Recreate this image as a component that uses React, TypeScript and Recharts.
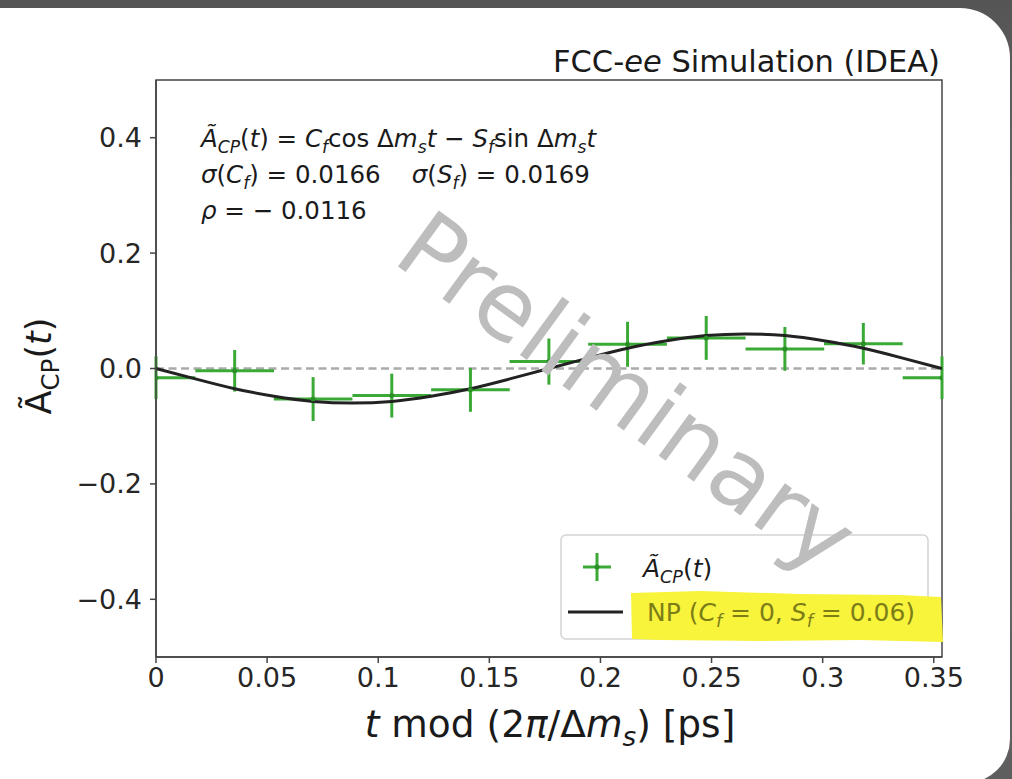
import React from "react";
import {
  ComposedChart,
  Line,
  Scatter,
  ErrorBar,
  XAxis,
  YAxis,
  ReferenceLine,
  ReferenceArea
} from "recharts";

// folded proper time, bin centres [ps]
const binTimes = [0, 0.0354, 0.0707, 0.1061, 0.1415, 0.1768, 0.2122, 0.2476, 0.283, 0.3183, 0.3537];
const asymValues = [-0.016, -0.004, -0.053, -0.047, -0.037, 0.012, 0.042, 0.053, 0.034, 0.043, -0.016];
const asymErrors = [0.037, 0.036, 0.038, 0.038, 0.038, 0.04, 0.039, 0.038, 0.038, 0.036, 0.037];
// horizontal bars as [left, right]; the edge bins are cut at the frame
const timeErrors = [
  [0, 0.0177], [0.0177, 0.0177], [0.0177, 0.0177], [0.0177, 0.0177], [0.0177, 0.0177], [0.0177, 0.0177],
  [0.0177, 0.0177], [0.0177, 0.0177], [0.0177, 0.0177], [0.0177, 0.0177], [0.0177, 0]
];

// NP hypothesis curve (C_f = 0, S_f = 0.06)
const npTimes = [
  0, 0.0177, 0.0354, 0.0531, 0.0707, 0.0884, 0.1061, 0.1238, 0.1415, 0.1592, 0.1768,
  0.1945, 0.2122, 0.2299, 0.2476, 0.2653, 0.283, 0.3006, 0.3183, 0.336, 0.3537
];
const npValues = [
  0, -0.018, -0.035, -0.048, -0.057, -0.06, -0.057, -0.048, -0.035, -0.018, 0,
  0.018, 0.035, 0.048, 0.057, 0.06, 0.057, 0.048, 0.035, 0.018, 0
];

const xTicks = [0, 0.05, 0.1, 0.15, 0.2, 0.25, 0.3, 0.35];
const yTicks = [-0.4, -0.2, 0, 0.2, 0.4];
const xMax = 0.3537;

const FONT = "DejaVu Sans";
const GREEN = "#3aa935";
const INK = "#222";

const points = binTimes.map((t, i) => ({
  t,
  a: asymValues[i],
  tErr: timeErrors[i],
  aErr: asymErrors[i]
}));
const npCurve = npTimes.map((t, i) => ({ t, a: npValues[i] }));

const tickStyle = { fill: "#262626", fontSize: 27, fontFamily: FONT };
const axisStroke = { stroke: "#444", strokeWidth: 1.5 };

type Seg = [string, "r" | "i" | "s" | "sr"];

// small mathtext-ish helper: italic symbols and subscripts
function MathText({
  x = 0,
  y = 0,
  size,
  segs,
  fill = "#1a1a1a",
  anchor = "start",
  transform
}: {
  x?: number;
  y?: number;
  size: number;
  segs: Seg[];
  fill?: string;
  anchor?: "start" | "middle" | "end";
  transform?: string;
}) {
  let shift = 0;
  return (
    <text
      x={x}
      y={y}
      fontSize={size}
      fill={fill}
      fontFamily={FONT}
      textAnchor={anchor}
      transform={transform}
      style={{ whiteSpace: "pre" }}
    >
      {segs.map(([s, kind], idx) => {
        const sub = kind === "s" || kind === "sr";
        const target = sub ? size * 0.24 : 0;
        const dy = target - shift;
        shift = target;
        return (
          <tspan
            key={idx}
            dy={dy}
            fontSize={sub ? size * 0.7 : size}
            fontStyle={kind === "i" || kind === "s" ? "italic" : "normal"}
          >
            {s}
          </tspan>
        );
      })}
    </text>
  );
}

const formulaLine: Seg[] = [
  ["Ã", "i"], ["CP", "s"], ["(", "r"], ["t", "i"], [")", "r"], [" = ", "r"],
  ["C", "i"], ["f", "s"], ["cos ", "r"], ["Δ", "r"], ["m", "i"], ["s", "s"], ["t", "i"],
  [" − ", "r"], ["S", "i"], ["f", "s"], ["sin ", "r"], ["Δ", "r"], ["m", "i"], ["s", "s"], ["t", "i"]
];
const sigmaLine: Seg[] = [
  ["σ", "i"], ["(", "r"], ["C", "i"], ["f", "s"], [") = 0.0166", "r"], ["    ", "r"],
  ["σ", "i"], ["(", "r"], ["S", "i"], ["f", "s"], [") = 0.0169", "r"]
];
const rhoLine: Seg[] = [["ρ", "i"], [" = − 0.0116", "r"]];
const xLabel: Seg[] = [
  ["t", "i"], [" mod (2", "r"], ["π", "i"], ["/Δ", "r"], ["m", "i"], ["s", "s"], [") [ps]", "r"]
];
const yLabel: Seg[] = [["Ã", "r"], ["CP", "sr"], ["(", "r"], ["t", "i"], [")", "r"]];
const legendData: Seg[] = [["Ã", "i"], ["CP", "s"], ["(", "r"], ["t", "i"], [")", "r"]];
const legendNP: Seg[] = [
  ["NP (", "r"], ["C", "i"], ["f", "s"], [" = 0, ", "r"], ["S", "i"], ["f", "s"], [" = 0.06)", "r"]
];

function Overlay() {
  return (
    <svg
      width={1012}
      height={779}
      style={{ position: "absolute", left: 0, top: 0, pointerEvents: "none" }}
    >
      <text x={940} y={72} textAnchor="end" fontSize={30.5} fontFamily={FONT} fill="#1a1a1a">
        FCC-<tspan fontStyle="italic">ee</tspan> Simulation (IDEA)
      </text>

      <MathText x={201} y={147} size={24.5} segs={formulaLine} />
      <MathText x={201} y={183} size={24.5} segs={sigmaLine} />
      <MathText x={201} y={219} size={24.5} segs={rhoLine} />

      <MathText x={550} y={737} size={37.5} segs={xLabel} anchor="middle" />
      <MathText size={35} segs={yLabel} anchor="middle" transform="translate(51 366) rotate(-90)" />

      {/* legend */}
      <rect x={561} y={535} width={367} height={104} rx={5} fill="#fff" fillOpacity={0.8} stroke="#d4d4d4" strokeWidth={1.5} />
      <line x1={583} x2={611} y1={567} y2={567} stroke={GREEN} strokeWidth={3} />
      <line x1={597} x2={597} y1={553} y2={581} stroke={GREEN} strokeWidth={3} />
      <circle cx={597} cy={567} r={2.5} fill="#2b8f28" />
      <MathText x={643} y={577} size={25} segs={legendData} />
      <line x1={568} x2={623} y1={612} y2={612} stroke={INK} strokeWidth={3} />
      <path
        d="M631 593 L700 591 L800 594 L900 595 L941 597 L943 642 L860 640 L760 641 L660 640 L632 639 Z"
        fill="#f8f43c"
      />
      <MathText x={647} y={621} size={25} segs={legendNP} fill="#7d7d18" />

      <text
        x={627}
        y={392}
        transform="rotate(36 627 392)"
        textAnchor="middle"
        dominantBaseline="central"
        fontSize={95}
        fontFamily={FONT}
        fill="#bdbdbd"
      >
        Preliminary
      </text>
    </svg>
  );
}

function AsymmetryChart() {
  return (
    <ComposedChart
      width={1012}
      height={779}
      margin={{ top: 80, right: 70, bottom: 82, left: 96 }}
    >
      <XAxis
        type="number"
        dataKey="t"
        domain={[0, xMax]}
        ticks={xTicks}
        interval={0}
        allowDataOverflow
        height={40}
        tickSize={6}
        tickMargin={5}
        tick={tickStyle}
        tickLine={axisStroke}
        axisLine={axisStroke}
        tickFormatter={(v: number) => String(v)}
      />
      <YAxis
        type="number"
        dataKey="a"
        domain={[-0.5, 0.5]}
        ticks={yTicks}
        interval={0}
        allowDataOverflow
        width={60}
        tickSize={6}
        tickMargin={8}
        tick={tickStyle}
        tickLine={axisStroke}
        axisLine={axisStroke}
        tickFormatter={(v: number) => v.toFixed(1).replace("-", "−")}
      />
      <ReferenceArea x1={0} x2={xMax} y1={-0.5} y2={0.5} fill="none" stroke="#444" strokeWidth={1.5} />
      <ReferenceLine y={0} stroke="#aaa" strokeWidth={2.5} strokeDasharray="8 4.5" />
      <Scatter
        data={points}
        dataKey="a"
        isAnimationActive={false}
        shape={(p: any) => <circle cx={p.cx} cy={p.cy} r={2.5} fill="#2b8f28" />}
      >
        <ErrorBar dataKey="tErr" direction="x" width={0} stroke={GREEN} strokeWidth={3} isAnimationActive={false} />
        <ErrorBar dataKey="aErr" direction="y" width={0} stroke={GREEN} strokeWidth={3} isAnimationActive={false} />
      </Scatter>
      <Line
        data={npCurve}
        dataKey="a"
        type="natural"
        dot={false}
        stroke={INK}
        strokeWidth={3}
        isAnimationActive={false}
      />
    </ComposedChart>
  );
}

export default function App() {
  return (
    <div
      style={{
        position: "fixed",
        left: 0,
        top: 0,
        width: 1012,
        height: 779,
        overflow: "hidden",
        background: "linear-gradient(180deg, #555 0%, #6e6e6e 40%, #5e5e5e 100%)"
      }}
    >
      <div
        style={{
          position: "absolute",
          left: -30,
          top: 8,
          width: 1040,
          height: 775,
          background: "#fff",
          borderTopRightRadius: 50,
          borderBottomRightRadius: 44
        }}
      />
      <div style={{ position: "absolute", left: 0, top: 0 }}>
        <AsymmetryChart />
      </div>
      <Overlay />
    </div>
  );
}
